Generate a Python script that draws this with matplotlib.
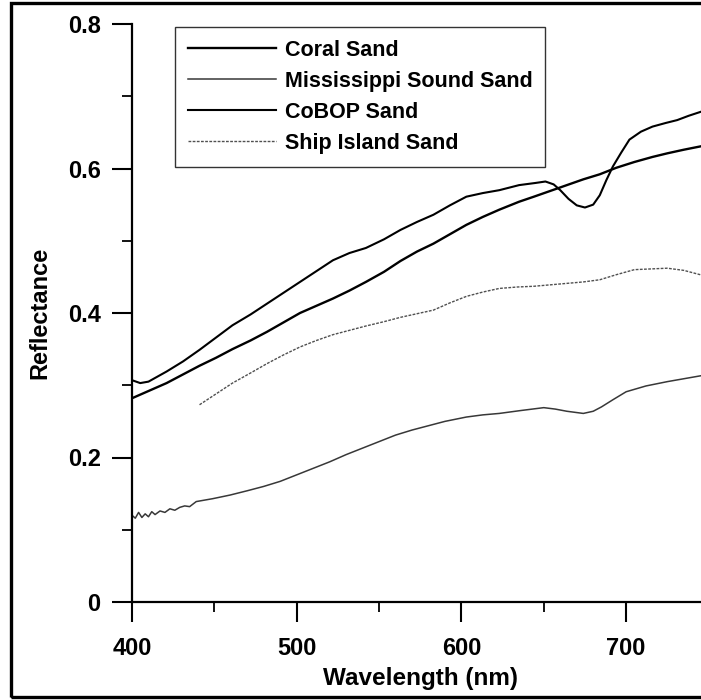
import matplotlib
matplotlib.use("Agg")
import matplotlib.pyplot as plt
from matplotlib.patches import Rectangle
from matplotlib.ticker import MultipleLocator

plt.rcParams['font.family'] = ['Liberation Sans', 'DejaVu Sans']
plt.rcParams['font.weight'] = 'bold'

# ---- data ----
coral_wl = [400, 410, 421, 431, 441, 451, 461, 472, 482, 492, 502, 512, 522, 532, 542,
            553, 563, 573, 583, 593, 603, 613, 623, 635, 644, 654, 664, 674, 684, 694,
            705, 716, 725, 735, 746, 750]
coral_r = [0.282, 0.292, 0.303, 0.315, 0.327, 0.338, 0.350, 0.362, 0.374, 0.387, 0.400,
           0.410, 0.420, 0.431, 0.443, 0.457, 0.472, 0.485, 0.496, 0.509, 0.522, 0.533,
           0.543, 0.554, 0.561, 0.569, 0.577, 0.585, 0.592, 0.601, 0.609, 0.616, 0.621,
           0.626, 0.631, 0.633]

miss_wl = [400, 402, 404, 406, 408, 410, 412, 414, 417, 420, 423, 426, 429, 432, 435,
           439, 449, 459.5, 470, 480, 490, 500, 510, 520, 530, 540, 550, 560, 570, 580,
           590, 603, 613, 623, 636, 650, 657, 664, 674, 680, 685, 692, 700, 712, 725,
           735, 745, 750]
miss_r = [0.120, 0.116, 0.124, 0.117, 0.122, 0.118, 0.125, 0.121, 0.126, 0.124, 0.129,
          0.127, 0.131, 0.133, 0.132, 0.139, 0.143, 0.148, 0.154, 0.160, 0.167, 0.176,
          0.185, 0.194, 0.204, 0.213, 0.222, 0.231, 0.238, 0.244, 0.250, 0.256, 0.259,
          0.261, 0.265, 0.269, 0.267, 0.264, 0.261, 0.264, 0.270, 0.280, 0.291, 0.299,
          0.305, 0.309, 0.313, 0.315]

cobop_wl = [400, 405, 410, 421, 431, 441, 451, 461, 472, 482, 492, 502, 512, 522, 532,
            542, 553, 563, 573, 583, 593, 603, 613, 623, 635, 645, 651, 656, 660, 665,
            670, 675, 680, 684, 688, 692, 697, 702, 709, 716, 724, 731, 738, 746, 750]
cobop_r = [0.307, 0.303, 0.305, 0.319, 0.333, 0.349, 0.366, 0.383, 0.398, 0.413, 0.428,
           0.443, 0.458, 0.473, 0.483, 0.490, 0.502, 0.515, 0.526, 0.536, 0.549, 0.561,
           0.566, 0.570, 0.577, 0.580, 0.582, 0.578, 0.570, 0.558, 0.549, 0.546, 0.550,
           0.563, 0.584, 0.603, 0.622, 0.640, 0.651, 0.658, 0.663, 0.667, 0.673, 0.679,
           0.682]

ship_wl = [441, 451, 461, 472, 482, 492, 502, 512, 522, 532, 542, 553, 563, 573, 583,
           593, 603, 613, 623, 634, 644, 654, 664, 674, 684, 694, 705, 715, 725, 735,
           745, 750]
ship_r = [0.273, 0.288, 0.303, 0.317, 0.330, 0.342, 0.353, 0.362, 0.370, 0.376, 0.382,
          0.388, 0.394, 0.399, 0.404, 0.414, 0.423, 0.429, 0.434, 0.436, 0.437, 0.439,
          0.441, 0.443, 0.446, 0.453, 0.460, 0.461, 0.462, 0.459, 0.453, 0.450]

labels = ["Coral Sand", "Mississippi Sound Sand", "CoBOP Sand", "Ship Island Sand"]
xticks = [400, 500, 600, 700]
yticks = [0, 0.2, 0.4, 0.6, 0.8]
ytick_labels = ["0", "0.2", "0.4", "0.6", "0.8"]

W, H = 701, 700
fig = plt.figure(figsize=(W / 100, H / 100), dpi=100)

# axes placement (pixels): x 400 -> 132, 750 -> 708.5 ; y 0 -> 602, 0.8 -> 24
ax = fig.add_axes([132 / W, (H - 602) / H, 576.5 / W, 578 / H])
ax.set_xlim(400, 750)
ax.set_ylim(0, 0.8)

ax.plot(coral_wl, coral_r, color='black', lw=1.7, label=labels[0])
ax.plot(miss_wl, miss_r, color='#383838', lw=1.1, label=labels[1])
ax.plot(cobop_wl, cobop_r, color='black', lw=1.5, label=labels[2])
ax.plot(ship_wl, ship_r, color='#505050', lw=1.0, ls=(0, (2, 1)), label=labels[3])

for s in ['top', 'right']:
    ax.spines[s].set_visible(False)
for s in ['left', 'bottom']:
    ax.spines[s].set_linewidth(1.6)

ax.set_xticks(xticks)
ax.set_xticklabels([str(v) for v in xticks])
ax.set_yticks(yticks)
ax.set_yticklabels(ytick_labels)
ax.xaxis.set_minor_locator(MultipleLocator(50))
ax.yaxis.set_minor_locator(MultipleLocator(0.1))
ax.tick_params(which='major', direction='out', length=14.5, width=1.5,
               labelsize=17, pad=8)
ax.tick_params(which='minor', direction='out', length=7.2, width=1.3)
ax.tick_params(axis='x', which='major', pad=11)

ax.set_xlabel("Wavelength (nm)", fontsize=17.5, fontweight='bold', labelpad=5)
ax.set_ylabel("Reflectance", fontsize=17, fontweight='bold', labelpad=12)

leg = ax.legend(loc='upper left', bbox_to_anchor=(175 / W, 1 - 27 / H),
                bbox_transform=fig.transFigure,
                prop={'size': 15.5, 'weight': 'bold'}, frameon=True,
                fancybox=False, edgecolor='black', borderaxespad=0,
                handlelength=4.1, handletextpad=0.4, labelspacing=0.46,
                borderpad=0.6)
leg.get_frame().set_linewidth(1.0)

# outer frame of the figure (right side cropped)
fig.patches.append(Rectangle((11 / W, 3 / H), 1.2, (697 - 3) / H,
                             transform=fig.transFigure, fill=False,
                             edgecolor='black', lw=2.4))

fig.savefig("out.png", dpi=100)
